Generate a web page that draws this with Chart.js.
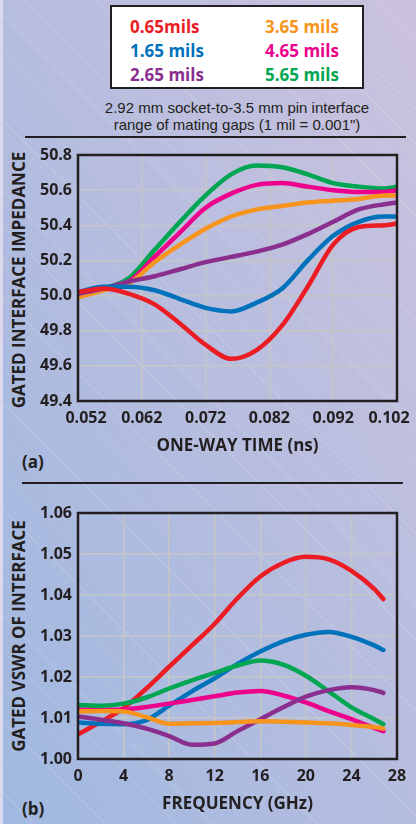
<!DOCTYPE html>
<html>
<head>
<meta charset="utf-8">
<script src="https://cdn.jsdelivr.net/npm/chart.js@4.4.1/dist/chart.umd.min.js"></script>
<style>
  body {
    margin: 0; width: 416px; height: 824px; overflow: hidden; position: relative;
    font-family: 'Open Sans', sans-serif; color: #231f20;
    background:
      repeating-linear-gradient(45deg, rgba(255,255,255,0) 0 24px, rgba(255,255,255,0.12) 24px 25px),
      linear-gradient(to bottom left, #cbc2de, #a0b8e0);
  }
  #strip { position: absolute; left: 0; top: 0; width: 3px; height: 824px; background: #dcd8ee; }
  #legend { position: absolute; left: 110px; top: 5px; width: 250px; height: 80px; border: 2px solid #231f20; background: #fff; }
  #legend div { position: absolute; font-weight: 700; font-size: 17px; line-height: 24px; white-space: nowrap; }
  #subtitle { position: absolute; left: 37px; top: 99px; width: 400px; text-align: center;
    font-family: 'Liberation Sans Narrow', 'Liberation Sans', sans-serif; font-size: 15px; line-height: 17px; }
  .rule { position: absolute; height: 1.5px; background: #231f20; }
  .ytitle { position: absolute; font-weight: 700; font-size: 17px; white-space: nowrap;
    transform: translate(-50%, -50%) rotate(-90deg); }
  .tag { position: absolute; font-weight: 700; font-size: 17px; }
  canvas { position: absolute; left: 0; }
</style>
</head>
<body>
<div id="strip"></div>
<div id="legend"></div>
<div id="subtitle">2.92 mm socket-to-3.5 mm pin interface<br>range of mating gaps (1 mil = 0.001")</div>
<div class="rule" style="left:25px; width:381px; top:136px"></div>
<div class="rule" style="left:22px; width:381px; top:482px"></div>
<div class="ytitle" style="left:18px; top:280px">GATED INTERFACE IMPEDANCE</div>
<div class="ytitle" style="left:18px; top:636px">GATED VSWR OF INTERFACE</div>
<div class="tag" style="left:22px; top:450px">(a)</div>
<div class="tag" style="left:22px; top:797px">(b)</div>
<canvas id="impChart" width="416" height="340" style="top:140px"></canvas>
<canvas id="vswrChart" width="416" height="334" style="top:490px"></canvas>
<script>
// gap sizes and colours
const gapLabels = ['0.65mils', '1.65 mils', '2.65 mils', '3.65 mils', '4.65 mils', '5.65 mils'];
const gapColors = ['#ec1c24', '#0072bc', '#8b2f8f', '#f7941d', '#ec008c', '#00a651'];

// (a) impedance vs one-way time
const timeNs = [0.052, 0.056, 0.060, 0.064, 0.068, 0.072, 0.076, 0.080, 0.084, 0.088, 0.092, 0.096, 0.100, 0.102];
const timeTicks = [0.052, 0.062, 0.072, 0.082, 0.092, 0.102];
const impTicks = [49.4, 49.6, 49.8, 50.0, 50.2, 50.4, 50.6, 50.8];
const imp065 = [50.02, 50.04, 50.01, 49.95, 49.84, 49.72, 49.64, 49.69, 49.83, 50.05, 50.29, 50.39, 50.40, 50.41];
const imp165 = [50.02, 50.05, 50.05, 50.03, 49.98, 49.93, 49.91, 49.96, 50.04, 50.20, 50.34, 50.42, 50.45, 50.45];
const imp265 = [50.01, 50.04, 50.08, 50.11, 50.15, 50.19, 50.22, 50.25, 50.29, 50.35, 50.42, 50.49, 50.52, 50.53];
const imp365 = [49.99, 50.03, 50.07, 50.19, 50.29, 50.38, 50.45, 50.49, 50.51, 50.53, 50.54, 50.55, 50.57, 50.57];
const imp465 = [50.01, 50.04, 50.08, 50.22, 50.36, 50.50, 50.58, 50.63, 50.64, 50.62, 50.60, 50.59, 50.59, 50.60];
const imp565 = [50.01, 50.04, 50.10, 50.26, 50.42, 50.57, 50.69, 50.74, 50.73, 50.69, 50.64, 50.62, 50.61, 50.62];

// (b) VSWR vs frequency
const freqGHz = [0, 2, 4, 6, 8, 10, 12, 14, 16, 18, 20, 22, 24, 26, 26.8];
const freqTicks = [0, 4, 8, 12, 16, 20, 24, 28];
const vswrTicks = [1.00, 1.01, 1.02, 1.03, 1.04, 1.05, 1.06];
const vswr065 = [1.0060, 1.0091, 1.0124, 1.0172, 1.0225, 1.0277, 1.0330, 1.0392, 1.0445, 1.0478, 1.0493, 1.0487, 1.0459, 1.0415, 1.0390];
const vswr165 = [1.0089, 1.0086, 1.0085, 1.0095, 1.0130, 1.0165, 1.0197, 1.0232, 1.0262, 1.0287, 1.0303, 1.0310, 1.0298, 1.0277, 1.0266];
const vswr265 = [1.0104, 1.0096, 1.0087, 1.0074, 1.0056, 1.0035, 1.0038, 1.0068, 1.0097, 1.0126, 1.0152, 1.0168, 1.0175, 1.0168, 1.0161];
const vswr365 = [1.0116, 1.0117, 1.0116, 1.0102, 1.0086, 1.0087, 1.0088, 1.0090, 1.0092, 1.0091, 1.0089, 1.0087, 1.0083, 1.0078, 1.0074];
const vswr465 = [1.0121, 1.0120, 1.0121, 1.0127, 1.0135, 1.0144, 1.0153, 1.0162, 1.0166, 1.0155, 1.0138, 1.0117, 1.0097, 1.0076, 1.0068];
const vswr565 = [1.0132, 1.0130, 1.0135, 1.0150, 1.0172, 1.0192, 1.0210, 1.0228, 1.0240, 1.0230, 1.0203, 1.0165, 1.0126, 1.0097, 1.0085];

// legend box, two columns of three
const legend = document.getElementById('legend');
gapLabels.forEach((lbl, i) => {
  const d = document.createElement('div');
  d.textContent = lbl;
  d.style.color = gapColors[i];
  d.style.left = (i < 3 ? 18 : 153) + 'px';
  d.style.top = (8 + (i % 3) * 24) + 'px';
  legend.appendChild(d);
});

const ink = '#231f20';
const tickFont = { family: 'Open Sans', weight: 'bold', size: 16 };
const pad = '\u2002\u2002';

const frame = {
  id: 'frame',
  afterDatasetsDraw(chart) {
    const { ctx, chartArea: a } = chart;
    ctx.save();
    ctx.strokeStyle = ink;
    ctx.lineWidth = 2.5;
    ctx.strokeRect(a.left, a.top, a.right - a.left, a.bottom - a.top);
    ctx.restore();
  }
};

// drawOrder: lower number is painted on top
function makeSets(xs, series, drawOrder) {
  return series.map((s, i) => ({
    label: gapLabels[i],
    data: xs.map((x, j) => ({ x: x, y: s[j] })),
    borderColor: gapColors[i],
    borderWidth: 4.5,
    borderCapStyle: 'round',
    pointRadius: 0,
    cubicInterpolationMode: 'monotone',
    order: drawOrder[i],
    fill: false
  }));
}

function makeChart(id, xs, series, opt) {
  return new Chart(document.getElementById(id), {
    type: 'line',
    data: { datasets: makeSets(xs, series, opt.drawOrder) },
    options: {
      responsive: false,
      animation: false,
      layout: { padding: { top: opt.top, right: 19, left: 0, bottom: 0 } },
      plugins: { legend: { display: false }, tooltip: { enabled: false } },
      scales: {
        x: {
          type: 'linear', min: opt.xTicks[0], max: opt.xTicks[opt.xTicks.length - 1],
          afterBuildTicks: s => { s.ticks = opt.xTicks.map(v => ({ value: v })); },
          afterFit: s => { s.height = opt.xHeight; s.paddingLeft = 0; s.paddingRight = 0; },
          grid: { color: '#c6c6c6', lineWidth: 1.5, drawTicks: false },
          border: { display: false },
          ticks: { padding: opt.xPad, color: ink, font: tickFont, maxRotation: 0, autoSkip: false,
                   callback: (v, i, t) => {
                     const s = v.toFixed(opt.xDec);
                     if (!opt.nudgeEnds) return s;
                     if (i === 0) return pad + s;
                     if (i === t.length - 1) return s + pad;
                     return s;
                   } },
          title: { display: true, text: opt.xTitle, color: ink,
                   font: { family: 'Open Sans', weight: 'bold', size: 17 },
                   padding: { top: 0, bottom: opt.titlePad } }
        },
        y: {
          min: opt.yTicks[0], max: opt.yTicks[opt.yTicks.length - 1],
          afterBuildTicks: s => { s.ticks = opt.yTicks.map(v => ({ value: v })); },
          afterFit: s => { s.width = 78; s.paddingTop = 0; s.paddingBottom = 0; },
          grid: { color: '#c6c6c6', lineWidth: 1.5, drawTicks: false },
          border: { display: false },
          ticks: { padding: 6, color: ink, font: tickFont, autoSkip: false,
                   callback: v => v.toFixed(opt.yDec) }
        }
      }
    },
    plugins: [frame]
  });
}

makeChart('impChart', timeNs, [imp065, imp165, imp265, imp365, imp465, imp565], {
  top: 15, xTicks: timeTicks, yTicks: impTicks, xDec: 3, yDec: 1, nudgeEnds: true,
  xHeight: 79, xPad: 8, titlePad: 24, xTitle: 'ONE-WAY TIME (ns)',
  drawOrder: [0, 1, 2, 3, 4, 5]
});
makeChart('vswrChart', freqGHz, [vswr065, vswr165, vswr265, vswr365, vswr465, vswr565], {
  top: 23, xTicks: freqTicks, yTicks: vswrTicks, xDec: 0, yDec: 2, nudgeEnds: false,
  xHeight: 65, xPad: 8, titlePad: 10, xTitle: 'FREQUENCY (GHz)',
  drawOrder: [5, 4, 1, 0, 3, 2]
});
</script>
</body>
</html>
